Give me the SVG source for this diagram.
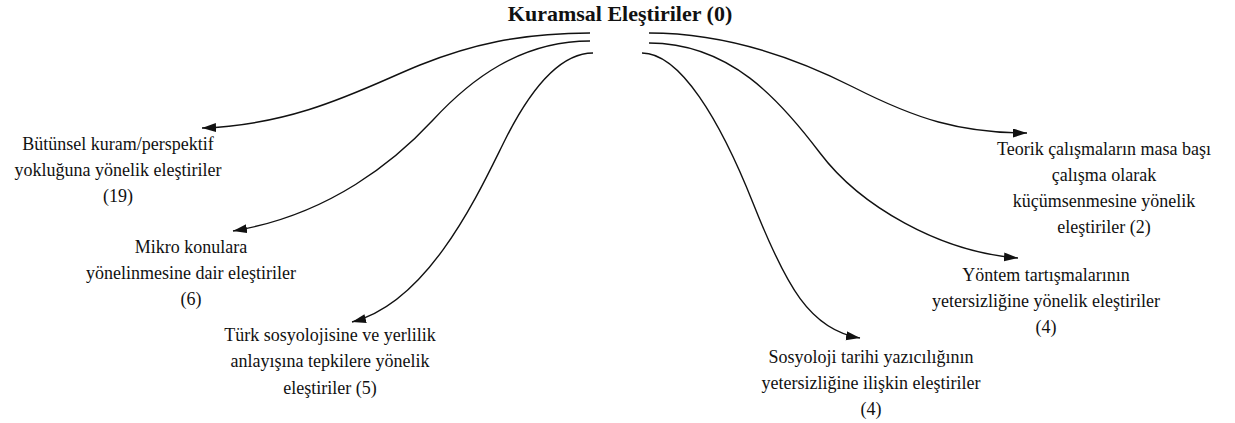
<svg xmlns="http://www.w3.org/2000/svg" width="1235" height="423" viewBox="0 0 1235 423">
<style>
  .lbl { font-family: "Liberation Serif", "Times New Roman", serif; font-size: 18px; fill: #111; text-anchor: middle; }
  .title { font-family: "Liberation Serif", "Times New Roman", serif; font-size: 22px; font-weight: bold; fill: #111; text-anchor: middle; }
  .edge { fill: none; stroke: #111; stroke-width: 1.4; }
</style>
<defs>
  <marker id="arrow" markerUnits="userSpaceOnUse" markerWidth="16" markerHeight="12" refX="14" refY="4.5" orient="auto">
    <path d="M0,0 L14,4.5 L0,9 z" fill="#111"/>
  </marker>
</defs>
<rect width="1235" height="423" fill="#ffffff"/>
<g id="connectors">
  <path class="edge" marker-end="url(#arrow)" d="M590,33 C520,33 470,45 420,65 S300,125 202,128"/>
  <path class="edge" marker-end="url(#arrow)" d="M590,41 C520,41 470,80 433,120 S330,215 233,231"/>
  <path class="edge" marker-end="url(#arrow)" d="M593,53 C560,53 530,90 505,140 S430,302 352,322"/>
  <path class="edge" marker-end="url(#arrow)" d="M649,33 C720,33 790,55 853,87 S960,133 1027,133"/>
  <path class="edge" marker-end="url(#arrow)" d="M649,43 C730,43 780,100 820,153 S940,252 1018,258"/>
  <path class="edge" marker-end="url(#arrow)" d="M642,53 C680,53 720,120 753,203 S810,330 860,338"/>
</g>
<g id="root">
  <text class="title" x="620" y="21">Kuramsal Eleştiriler (0)</text>
</g>
<g id="n1">
  <text class="lbl" x="118" y="150">Bütünsel kuram/perspektif</text>
  <text class="lbl" x="118" y="176">yokluğuna yönelik eleştiriler</text>
  <text class="lbl" x="118" y="202">(19)</text>
</g>
<g id="n2">
  <text class="lbl" x="191" y="253">Mikro konulara</text>
  <text class="lbl" x="191" y="279">yönelinmesine dair eleştiriler</text>
  <text class="lbl" x="191" y="305">(6)</text>
</g>
<g id="n3">
  <text class="lbl" x="330" y="341">Türk sosyolojisine ve yerlilik</text>
  <text class="lbl" x="330" y="367">anlayışına tepkilere yönelik</text>
  <text class="lbl" x="330" y="394">eleştiriler (5)</text>
</g>
<g id="n4">
  <text class="lbl" x="871" y="363">Sosyoloji tarihi yazıcılığının</text>
  <text class="lbl" x="871" y="389">yetersizliğine ilişkin eleştiriler</text>
  <text class="lbl" x="871" y="415">(4)</text>
</g>
<g id="n5">
  <text class="lbl" x="1046" y="281">Yöntem tartışmalarının</text>
  <text class="lbl" x="1046" y="307">yetersizliğine yönelik eleştiriler</text>
  <text class="lbl" x="1046" y="333">(4)</text>
</g>
<g id="n6">
  <text class="lbl" x="1104" y="155">Teorik çalışmaların masa başı</text>
  <text class="lbl" x="1104" y="181">çalışma olarak</text>
  <text class="lbl" x="1104" y="207">küçümsenmesine yönelik</text>
  <text class="lbl" x="1104" y="233">eleştiriler (2)</text>
</g>
</svg>
